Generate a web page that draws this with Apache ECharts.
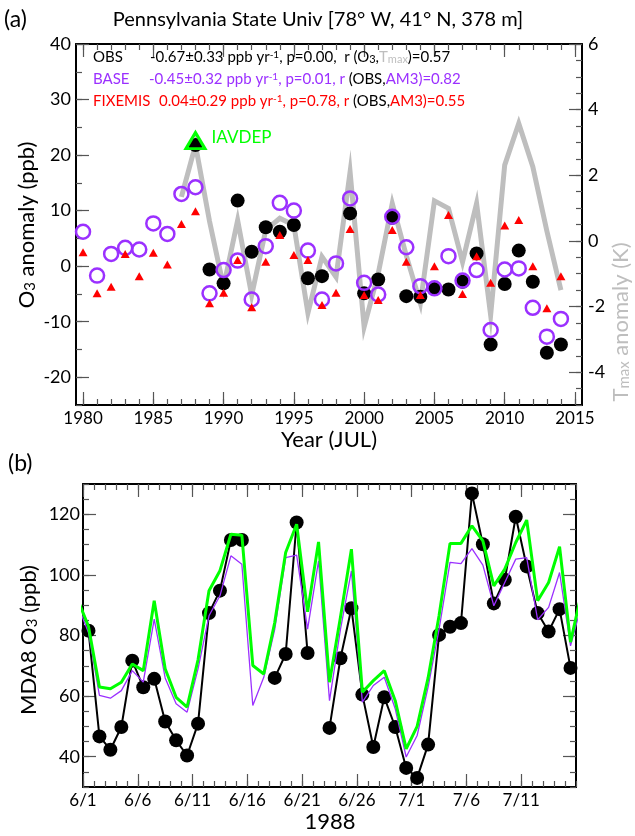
<!DOCTYPE html>
<html><head><meta charset="utf-8">
<script src="https://cdn.jsdelivr.net/npm/echarts@6/dist/echarts.min.js"></script>
<style>html,body{margin:0;padding:0;background:#fff}#c{width:635px;height:836px}</style>
</head><body><div id="c"></div>
<script>
// ---------- Panel (a): annual JUL anomalies ----------
const years = [1980,1981,1982,1983,1984,1985,1986,1987,1988,1989,1990,1991,1992,1993,1994,1995,1996,1997,1998,1999,2000,2001,2002,2003,2004,2005,2006,2007,2008,2009,2010,2011,2012,2013,2014];
const obsAnom = [null,null,null,null,null,null,null,null,21.8,-0.6,-3.1,11.8,2.6,7.0,6.2,7.4,-2.2,-1.8,null,9.5,-4.9,-2.4,8.7,-5.4,-5.5,-4.0,-4.2,-2.8,2.3,-14.1,-3.2,2.8,-2.8,-15.6,-14.1];
const baseAnom = [6.2,-1.7,2.2,3.3,3.0,7.7,5.8,13.0,14.2,-4.9,-0.7,1.0,-6.0,3.6,11.4,10.0,2.8,-6.0,0.5,12.2,-3.0,-5.1,8.9,3.4,-3.6,-4.0,1.8,-2.6,-0.7,-11.5,-0.6,-0.4,-7.5,-12.7,-9.5];
const fixemisAnom = [2.5,-4.9,-3.7,2.2,-1.8,2.4,0.3,7.6,9.9,-6.7,-4.8,1.1,-7.4,0.8,5.6,2.0,1.1,-7.0,-4.8,6.7,-5.2,-6.1,6.5,0.8,-5.2,0.0,9.2,-5.0,1.8,-3.0,7.3,8.3,0.0,-7.6,-1.8];
const tmaxYears = [1987,1988,1989,1990,1991,1992,1993,1994,1995,1996,1997,1998,1999,2000,2001,2002,2003,2004,2005,2006,2007,2008,2009,2010,2011,2012,2013,2014];
const tmaxAnom = [1.34,2.92,0.6,-1.4,0.63,-1.65,0.33,0.69,0.48,-2.2,-0.48,-1.1,2.1,-2.62,-1.0,1.14,-0.45,-1.9,1.22,0.99,-0.64,1.14,-2.26,2.31,3.58,2.26,0.3,-1.5];
const iavdepYears = [1988];
const iavdepAnom = [22.6];
const yearTicks = [1980,1985,1990,1995,2000,2005,2010,2015];
const anomTicks = [-20,-10,0,10,20,30,40];
const tmaxTicks = [-4,-2,0,2,4,6];

// ---------- Panel (b): daily MDA8, 1988 (day 0 = 6/1) ----------
const obsStartDay = 0;     // 6/1
const modelStartDay = -1;  // 5/31
const obsMDA8 = [81.6,46.7,42.3,49.8,71.7,62.9,65.7,51.6,45.4,40.4,50.9,87.4,94.8,111.5,111.5,null,null,66.0,73.9,117.3,74.2,null,49.5,72.5,89.0,60.5,43.2,59.6,49.8,36.3,33.0,44.0,80.2,82.9,84.1,126.9,110.1,90.6,98.4,119.2,102.8,87.4,81.3,88.7,69.3];
const iavdepMDA8 = [92,83,63.0,62.4,64.6,70.6,68.4,91.5,69,59.6,56.4,72,94.8,101.4,113.4,113.1,70.1,67.3,84.3,107.4,116.7,87.8,110.9,64.6,86,108.5,61.3,65.1,68.4,58.5,42.6,50,66,86.5,110.4,110.4,116.2,111.2,96.4,101.9,110.7,118.1,91.5,97.5,109.3,77.8,94];
const baseMDA8 = [90,81,60.2,59.3,61.8,68.4,64.6,85.4,66,57.5,54.7,69,86.5,93.1,106.3,103.5,56.9,66.2,82,105.7,106.5,82.1,104.6,58.5,82,101.3,58.0,63.5,66.2,55.8,39.9,47.0,63,82,104.1,103.7,108.7,103.2,89.8,97.5,105.2,105.7,85.2,89.3,100.8,76.6,90];
const dayTicks = [0,5,10,15,20,25,30,35,40];
const dayTickLabels = ['6/1','6/6','6/11','6/16','6/21','6/26','7/1','7/6','7/11'];
const mdaTicks = [40,60,80,100,120];

// ---------- helpers ----------
const FONT = 'Lato';
const PURPLE = '#9b30ff', RED = '#ff0000', GREEN = '#00ff00', GRAY = '#bebebe';
function range(a, b, s) { const r = []; for (let v = a; v <= b + 1e-9; v += s) r.push(+v.toFixed(4)); return r; }
function axis(gridIndex, position, min, max, tickVals, tickLen, labelVals, fmt, showLine, labelExtra) {
  return {
    type: 'value', gridIndex, position, min, max,
    axisLine: { show: showLine, onZero: false, lineStyle: { color: '#000', width: 2 } },
    axisTick: { show: true, inside: true, length: tickLen, customValues: tickVals, lineStyle: { color: '#555', width: 1.2 } },
    axisLabel: labelVals ? Object.assign({ show: true, customValues: labelVals, formatter: fmt, color: '#000', fontFamily: FONT, fontSize: 17 }, labelExtra || {}) : { show: false },
    splitLine: { show: false }
  };
}
const pairs = (xs, ys) => xs.map((x, i) => [x, ys[i]]).filter(p => p[1] !== null);
const dayPairs = (start, ys) => ys.map((v, i) => [start + i + 0.5, v]);

const xAxis = [
  axis(0, 'bottom', 1979.5, 2015.5, yearTicks, 13, yearTicks, v => String(v), true, { margin: 5, fontSize: 17 }),
  axis(0, 'bottom', 1979.5, 2015.5, range(1980, 2015, 1), 6, null, null, false),
  axis(0, 'top', 1979.5, 2015.5, yearTicks, 13, null, null, true),
  axis(0, 'top', 1979.5, 2015.5, range(1980, 2015, 1), 6, null, null, false),
  axis(1, 'bottom', 0, 45, dayTicks, 13, dayTicks, v => dayTickLabels[dayTicks.indexOf(v)], true, { margin: 5, fontSize: 17 }),
  axis(1, 'bottom', 0, 45, range(0, 45, 1), 6, null, null, false),
  axis(1, 'top', 0, 45, dayTicks, 13, null, null, true),
  axis(1, 'top', 0, 45, range(0, 45, 1), 6, null, null, false)
];
const yAxis = [
  axis(0, 'left', -25, 40, anomTicks, 13, anomTicks, v => String(v), true, { margin: 5, fontSize: 18 }),
  axis(0, 'left', -25, 40, range(-25, 40, 5), 6, null, null, false),
  axis(0, 'right', -5, 6, tmaxTicks, 13, tmaxTicks, v => String(v), true, { margin: 6, fontSize: 18 }),
  axis(0, 'right', -5, 6, range(-5, 6, 0.5), 6, null, null, false),
  axis(1, 'left', 30, 130, mdaTicks, 13, mdaTicks, v => String(v), true, { margin: 3, fontSize: 18 }),
  axis(1, 'left', 30, 130, range(30, 130, 5), 6, null, null, false),
  axis(1, 'right', 30, 130, mdaTicks, 13, null, null, true),
  axis(1, 'right', 30, 130, range(30, 130, 5), 6, null, null, false)
];

const series = [
  { type: 'line', xAxisIndex: 0, yAxisIndex: 2, data: pairs(tmaxYears, tmaxAnom), symbol: 'none',
    lineStyle: { color: GRAY, width: 5, join: 'miter' }, z: 1, silent: true },
  { type: 'scatter', xAxisIndex: 0, yAxisIndex: 0, data: pairs(years, obsAnom), symbol: 'circle', symbolSize: 14,
    itemStyle: { color: '#000', opacity: 1 }, z: 2 },
  { type: 'scatter', xAxisIndex: 0, yAxisIndex: 0, data: pairs(years, baseAnom), symbol: 'circle', symbolSize: 14,
    itemStyle: { color: 'rgba(0,0,0,0)', borderColor: PURPLE, borderWidth: 2.5, opacity: 1 }, z: 3 },
  { type: 'scatter', xAxisIndex: 0, yAxisIndex: 0, data: pairs(years, fixemisAnom), symbol: 'triangle', symbolSize: [9, 8],
    itemStyle: { color: RED, opacity: 1 }, z: 4 },
  { type: 'scatter', xAxisIndex: 0, yAxisIndex: 0, data: pairs(iavdepYears, iavdepAnom), symbol: 'triangle', symbolSize: [19, 16],
    itemStyle: { color: 'rgba(0,0,0,0)', borderColor: GREEN, borderWidth: 3, opacity: 1 }, z: 5,
    label: { show: true, position: 'right', distance: 5, offset: [0, -3], formatter: 'IAVDEP', color: GREEN, fontFamily: FONT, fontSize: 17 } },

  { type: 'line', xAxisIndex: 4, yAxisIndex: 4, data: dayPairs(obsStartDay, obsMDA8), symbol: 'circle', symbolSize: 14,
    showAllSymbol: true, connectNulls: false, itemStyle: { color: '#000', opacity: 1 }, lineStyle: { color: '#000', width: 2 }, z: 2 },
  { type: 'line', xAxisIndex: 4, yAxisIndex: 4, data: dayPairs(modelStartDay, baseMDA8), symbol: 'none',
    lineStyle: { color: PURPLE, width: 1.3 }, z: 3 },
  { type: 'line', xAxisIndex: 4, yAxisIndex: 4, data: dayPairs(modelStartDay, iavdepMDA8), symbol: 'none',
    lineStyle: { color: GREEN, width: 3 }, z: 4 }
];

const supStyle = { fontSize: 10, verticalAlign: 'top' };
const subStyle = { fontSize: 11, verticalAlign: 'bottom' };
function txt(x, y, text, opts) {
  opts = opts || {};
  return {
    type: 'text', x, y, rotation: opts.rotation || 0, z: 100,
    style: {
      text, fill: opts.fill || '#000', fontFamily: FONT, fontSize: opts.fontSize || 14,
      align: opts.align || 'left', verticalAlign: 'middle', rich: opts.rich || {}
    }
  };
}
const RS = 15;
const richRow = (base) => ({
  sup: Object.assign({ fill: base, fontFamily: FONT }, supStyle),
  sub: Object.assign({ fill: '#000', fontFamily: FONT }, subStyle),
  k: { fill: '#000', fontFamily: FONT, fontSize: RS },
  gt: { fill: GRAY, fontFamily: FONT, fontSize: RS },
  gsub: { fill: GRAY, fontFamily: FONT, fontSize: 11, verticalAlign: 'bottom' }
});

const graphic = [
  txt(4, 20, '(a)', { fontSize: 23 }),
  txt(318, 20, 'Pennsylvania State Univ [78° W, 41° N, 378 m]', { fontSize: 20, align: 'center' }),
  txt(93, 57, 'OBS', { fontSize: RS }),
  txt(150, 57, '-0.67±0.33 ppb yr{sup|-1}, p=0.00,  r (O{sub|3},{gt|T}{gsub|max})=0.57', { fontSize: RS, rich: richRow('#000') }),
  txt(93, 79, 'BASE', { fontSize: RS, fill: PURPLE }),
  txt(149, 79, '-0.45±0.32 ppb yr{sup|-1}, p=0.01, r {k|(OBS,}AM3)=0.82', { fontSize: RS, fill: PURPLE, rich: richRow(PURPLE) }),
  txt(93, 101, 'FIXEMIS', { fontSize: RS, fill: RED }),
  txt(159, 101, '0.04±0.29 ppb yr{sup|-1}, p=0.78, r {k|(OBS,}AM3)=0.55', { fontSize: RS, fill: RED, rich: richRow(RED) }),
  txt(27, 225, 'O{s|3} anomaly (ppb)', { fontSize: 22, align: 'center', rotation: Math.PI / 2,
    rich: { s: { fontSize: 15, verticalAlign: 'bottom', fontFamily: FONT, fill: '#000' } } }),
  txt(621, 322, 'T{s|max} anomaly (K)', { fontSize: 22, align: 'center', rotation: Math.PI / 2, fill: GRAY,
    rich: { s: { fontSize: 15, verticalAlign: 'bottom', fontFamily: FONT, fill: GRAY } } }),
  txt(329, 440, 'Year (JUL)', { fontSize: 22, align: 'center' }),
  txt(8, 464, '(b)', { fontSize: 23 }),
  txt(29, 640, 'MDA8 O{s|3} (ppb)', { fontSize: 22, align: 'center', rotation: Math.PI / 2,
    rich: { s: { fontSize: 15, verticalAlign: 'bottom', fontFamily: FONT, fill: '#000' } } }),
  txt(330, 822, '1988', { fontSize: 22, align: 'center' })
];

const chart = echarts.init(document.getElementById('c'), null, { renderer: 'canvas' });
chart.setOption({
  animation: false,
  backgroundColor: '#fff',
  textStyle: { fontFamily: FONT },
  grid: [
    { left: 76, top: 44, width: 506, height: 361 },
    { left: 83, top: 484, width: 493, height: 303 }
  ],
  xAxis, yAxis, series, graphic
});
</script></body></html>
